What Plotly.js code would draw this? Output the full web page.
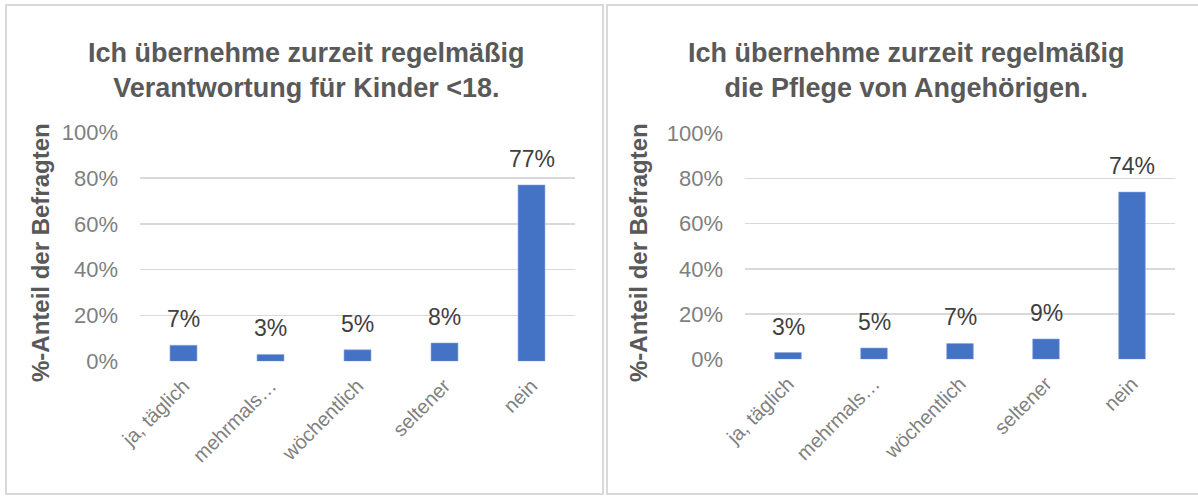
<!DOCTYPE html>
<html><head><meta charset="utf-8">
<script src="https://cdn.plot.ly/plotly-3.0.1.min.js"></script>
<style>html,body{margin:0;padding:0;background:#fff}#c{width:1198px;height:496px}</style>
</head><body><div id="c"></div>
<script>
const categories = ['ja, täglich', 'mehrmals…', 'wöchentlich', 'seltener', 'nein'];
const kinderValues = [0.07, 0.03, 0.05, 0.08, 0.77];
const pflegeValues = [0.03, 0.05, 0.07, 0.09, 0.74];
const title1 = 'Ich übernehme zurzeit regelmäßig<br>Verantwortung für Kinder &lt;18.';
const title2 = 'Ich übernehme zurzeit regelmäßig<br>die Pflege von Angehörigen.';
const yTitle = '%-Anteil der Befragten';

const W = 1198, H = 496;
const px = x => x / W, py = y => 1 - y / H;
const FONT = 'Liberation Sans, Arial, sans-serif';
const barColor = '#4472C4';

function bar(vals, xa, ya) {
  return {type: 'bar', x: categories, y: vals, xaxis: xa, yaxis: ya,
    marker: {color: barColor, line: {color: '#8FAADC', width: 0.6}},
    hoverinfo: 'skip', showlegend: false};
}
function labels(vals, xa, ya) {
  return vals.map((v, i) => ({x: categories[i], y: v, xref: xa, yref: ya,
    text: Math.round(v * 100) + '%', showarrow: false, xanchor: 'center', yanchor: 'bottom', yshift: 11,
    font: {family: FONT, size: 23, color: '#404040'}}));
}
const xax = d => ({domain: d, type: 'category', tickangle: -45, showgrid: false, zeroline: false,
  showline: false, ticks: '', ticklabelstandoff: 8,
  tickfont: {family: FONT, size: 20, color: '#7f7f7f'}, fixedrange: true});
const yax = (d, anchor) => ({domain: d, anchor: anchor, range: [0, 1], dtick: 0.2, tickformat: '.0%',
  showgrid: true, gridcolor: '#d9d9d9', gridwidth: 1.5, zeroline: false, showline: false, ticks: '',
  ticklabelstandoff: 21, tickfont: {family: FONT, size: 22, color: '#7f7f7f'}, fixedrange: true});

const ann = (x, y, text, size, extra) => Object.assign({xref: 'paper', yref: 'paper', x: px(x), y: py(y),
  xanchor: 'center', yanchor: 'middle', text: text, showarrow: false,
  font: {family: FONT, size: size, color: '#595959'}}, extra || {});

const layout = {
  width: W, height: H, margin: {l: 0, r: 0, t: 0, b: 0},
  paper_bgcolor: '#fff', plot_bgcolor: '#fff', bargap: 0.69,
  xaxis: Object.assign(xax([px(140), px(575)]), {anchor: 'y'}),
  yaxis: yax([py(361.3), py(132.3)], 'x'),
  xaxis2: Object.assign(xax([px(745), px(1175)]), {anchor: 'y2'}),
  yaxis2: yax([py(359.3), py(133.3)], 'x2'),
  shapes: [
    {type: 'rect', xref: 'paper', yref: 'paper', x0: px(6), x1: px(603), y0: py(494), y1: py(5),
      line: {color: '#d9d9d9', width: 2}},
    {type: 'rect', xref: 'paper', yref: 'paper', x0: px(607), x1: px(1201), y0: py(494), y1: py(5),
      line: {color: '#d9d9d9', width: 2}}
  ],
  annotations: [
    ann(306, 70, '<b>' + title1 + '</b>', 27),
    ann(906, 70, '<b>' + title2 + '</b>', 27),
    ann(40, 253, '<b>' + yTitle + '</b>', 24, {textangle: -90}),
    ann(638, 253, '<b>' + yTitle + '</b>', 24, {textangle: -90})
  ].concat(labels(kinderValues, 'x', 'y'), labels(pflegeValues, 'x2', 'y2'))
};

Plotly.newPlot('c', [bar(kinderValues, 'x', 'y'), bar(pflegeValues, 'x2', 'y2')], layout,
  {displayModeBar: false, staticPlot: true});
</script></body></html>
